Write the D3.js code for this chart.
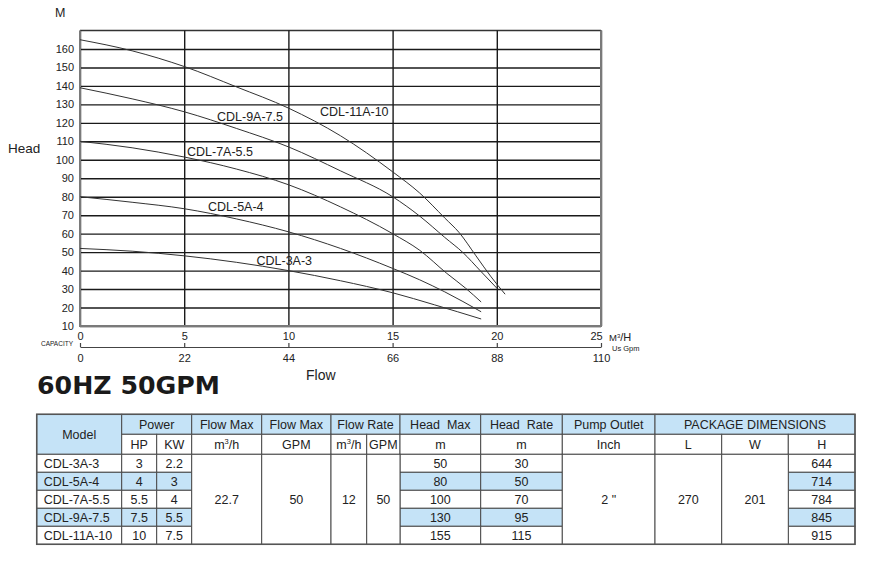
<!DOCTYPE html>
<html>
<head>
<meta charset="utf-8">
<script src="https://cdn.jsdelivr.net/npm/d3@7"></script>
<style>
  body { margin: 0; background: #fff; }
  svg { display: block; font-family: "Liberation Sans", Arial, sans-serif; }
</style>
</head>
<body>
<svg id="chart" width="880" height="562"></svg>
<script>
// ---------- DATA ----------
const curveNames = ["CDL-11A-10", "CDL-9A-7.5", "CDL-7A-5.5", "CDL-5A-4", "CDL-3A-3"];
const curve11A = [[0,165],[2.5,159],[5,150.5],[7.5,139.5],[10,128],[12.5,113],[15,93.5],[16.3,82],[17.5,68.5],[18.2,60.5],[19,48],[19.7,37],[20.4,27.2]];
const curve9A  = [[0,139],[2.5,133],[5,126],[7.5,117],[10,107],[12.5,94],[15,80],[16.3,69.5],[17.5,58],[18.4,49.5],[19.2,40],[20,30.5]];
const curve7A  = [[0,110],[2.5,106.5],[5,101.5],[7.5,95],[10,86.5],[12.5,74.5],[15,60],[16.3,51],[17.6,38.5],[18.5,30.5],[19.25,23]];
const curve5A  = [[0,80],[2.5,77],[5,73.5],[7.5,68],[10,61],[12.5,52],[15,41.2],[16.3,35],[17.5,28.5],[19.25,17.7]];
const curve3A  = [[0,52],[2.5,50.5],[5,48],[7.5,44.5],[10,40],[12.5,34.5],[15,28],[17,21.5],[19.25,13.8]];
const curves = [curve11A, curve9A, curve7A, curve5A, curve3A];

const headTicks = [10,20,30,40,50,60,70,80,90,100,110,120,130,140,150,160];
const flowTicks = [0,5,10,15,20,25];
const gpmTicks = [0,22,44,66,88,110];

// table data
const models   = ["CDL-3A-3","CDL-5A-4","CDL-7A-5.5","CDL-9A-7.5","CDL-11A-10"];
const powerHP  = ["3","4","5.5","7.5","10"];
const powerKW  = ["2.2","3","4","5.5","7.5"];
const headMax  = ["50","80","100","130","155"];
const headRate = ["30","50","70","95","115"];
const pkgH     = ["644","714","784","845","915"];
const flowMaxM3 = "22.7", flowMaxGPM = "50", flowRateM3 = "12", flowRateGPM = "50";
const pumpOutlet = "2 \"", pkgL = "270", pkgW = "201";

// ---------- CHART ----------
const svg = d3.select("#chart");
const X0 = 80, X1 = 601, Ytop = 30.5, Ybot = 326;
const x = d3.scaleLinear().domain([0,25]).range([X0,X1]);
const y = d3.scaleLinear().domain([10,170]).range([Ybot,Ytop]);
const g = d3.scaleLinear().domain([0,110]).range([X0,X1]);

// horizontal grid + head labels
const yAx = svg.append("g").attr("transform",`translate(${X0},0)`)
  .call(d3.axisLeft(y).tickValues(headTicks).tickSize(-(X1-X0)).tickPadding(6));
yAx.select(".domain").remove();
yAx.selectAll("line").attr("stroke","#1a1a1a").attr("stroke-width",1.4);
yAx.selectAll("text").attr("font-size",11).attr("fill","#222").attr("font-family","Liberation Sans, Arial");
// top line (170)
svg.append("line").attr("x1",X0).attr("x2",X1).attr("y1",y(170)).attr("y2",y(170))
  .attr("stroke","#333").attr("stroke-width",1.4);

// vertical grid + flow labels
const xAx = svg.append("g").attr("transform",`translate(0,${Ybot})`)
  .call(d3.axisBottom(x).tickValues(flowTicks).tickSize(-(Ybot-Ytop)).tickPadding(6));
xAx.select(".domain").remove();
xAx.selectAll("line").attr("stroke","#1a1a1a").attr("stroke-width",1.4);
xAx.selectAll("text").attr("font-size",11).attr("fill","#222").attr("font-family","Liberation Sans, Arial")
  .attr("dx",d=>d===25?-5:0);
// frame: left, bottom, right in grey
svg.append("path").attr("d",`M${X0},${Ytop}V${Ybot}H${X1}V${Ytop}`)
  .attr("fill","none").attr("stroke","#7a7a7a").attr("stroke-width",2);

// gpm axis
const gAx = svg.append("g").attr("transform",`translate(0,347)`)
  .call(d3.axisBottom(g).tickValues(gpmTicks).tickSizeInner(-4).tickSizeOuter(0).tickPadding(7));
gAx.select(".domain").attr("stroke","#444").attr("stroke-width",1.2);
gAx.selectAll("line").attr("stroke","#444").attr("stroke-width",1.2);
gAx.selectAll("text").attr("font-size",11).attr("fill","#222").attr("font-family","Liberation Sans, Arial");

// curves
const line = d3.line().x(d=>x(d[0])).y(d=>y(d[1])).curve(d3.curveMonotoneX);
svg.append("g").selectAll("path").data(curves).join("path")
  .attr("d",line).attr("fill","none").attr("stroke","#333").attr("stroke-width",1);

// curve labels
const labelPos = [[320,116],[217,121],[187,155.5],[208,211],[256.5,264.5]];
svg.append("g").selectAll("text").data(curveNames).join("text")
  .attr("x",(d,i)=>labelPos[i][0]).attr("y",(d,i)=>labelPos[i][1])
  .attr("font-size",12.5).attr("fill","#222").text(d=>d);

// axis titles
svg.append("text").attr("x",55).attr("y",17).attr("font-size",12.5).attr("fill","#222").text("M");
svg.append("text").attr("x",8).attr("y",153).attr("font-size",13.5).attr("fill","#222").text("Head");
svg.append("text").attr("x",73).attr("y",346).attr("text-anchor","end").attr("font-size",6.5).attr("fill","#222").text("CAPACITY");
const mh = svg.append("text").attr("x",609).attr("y",341).attr("font-size",9.5).attr("fill","#222");
mh.append("tspan").text("M");
mh.append("tspan").attr("font-size",6).attr("dy",-3).text("3");
mh.append("tspan").attr("dy",3).attr("font-size",11).text("/H");
svg.append("text").attr("x",612).attr("y",351).attr("font-size",7.5).attr("fill","#222").text("Us Gpm");
svg.append("text").attr("x",306).attr("y",380).attr("font-size",14).attr("fill","#222").text("Flow");
svg.append("text").attr("x",37).attr("y",394).attr("font-size",25).attr("font-weight","bold")
  .attr("font-family","DejaVu Sans Condensed, DejaVu Sans").attr("fill","#1a1a1a")
  .attr("textLength",183).attr("lengthAdjust","spacingAndGlyphs").text("60HZ 50GPM");

// ---------- TABLE ----------
const cols = [36.7,121.7,156.7,191.7,261.7,331,366.7,400,480.7,562.3,655,721.7,788.3,855];
const rowY = [414.3,434.3,454.3,472.3,490.3,508.3,526.3,544.3];
const blue = "#c5e3f7", border = "#4a4a4a";
const T = svg.append("g");
function cell(c0,c1,r0,r1,fill,text,anchor){
  const xa = cols[c0], xb = cols[c1], ya = rowY[r0], yb = rowY[r1];
  T.append("rect").attr("x",xa).attr("y",ya).attr("width",xb-xa).attr("height",yb-ya)
    .attr("fill",fill).attr("stroke",border).attr("stroke-width",1);
  if (text !== undefined) {
    const t = T.append("text").attr("y",(ya+yb)/2+4.5).attr("font-size",12.5).attr("fill","#222")
      .style("white-space","pre");
    if (anchor==="start") t.attr("x",xa+7).attr("text-anchor","start");
    else t.attr("x",(xa+xb)/2).attr("text-anchor","middle");
    if (text.indexOf("m³/h")>=0) { t.append("tspan").text("m"); t.append("tspan").attr("font-size",7.5).attr("dy",-5).text("3"); t.append("tspan").attr("dy",5).text("/h"); }
    else t.text(text);
  }
}
// header row 1
cell(0,1,0,2,blue,"Model");
cell(1,3,0,1,blue,"Power");
cell(3,4,0,1,blue,"Flow Max");
cell(4,5,0,1,blue,"Flow Max");
cell(5,7,0,1,blue,"Flow Rate");
cell(7,8,0,1,blue,"Head  Max");
cell(8,9,0,1,blue,"Head  Rate");
cell(9,10,0,1,blue,"Pump Outlet");
cell(10,13,0,1,blue,"PACKAGE DIMENSIONS");
// header row 2
cell(1,2,1,2,"#fff","HP");
cell(2,3,1,2,"#fff","KW");
cell(3,4,1,2,"#fff","m³/h");
cell(4,5,1,2,"#fff","GPM");
cell(5,6,1,2,"#fff","m³/h");
cell(6,7,1,2,"#fff","GPM");
cell(7,8,1,2,"#fff","m");
cell(8,9,1,2,"#fff","m");
cell(9,10,1,2,"#fff","Inch");
cell(10,11,1,2,"#fff","L");
cell(11,12,1,2,"#fff","W");
cell(12,13,1,2,"#fff","H");
// data rows
models.forEach((m,i)=>{
  const r = i+2, f = (i%2===1) ? blue : "#fff";
  cell(0,1,r,r+1,f,m,"start");
  cell(1,2,r,r+1,f,powerHP[i]);
  cell(2,3,r,r+1,f,powerKW[i]);
  cell(7,8,r,r+1,f,headMax[i]);
  cell(8,9,r,r+1,f,headRate[i]);
  cell(12,13,r,r+1,f,pkgH[i]);
});
cell(3,4,2,7,"#fff",flowMaxM3);
cell(4,5,2,7,"#fff",flowMaxGPM);
cell(5,6,2,7,"#fff",flowRateM3);
cell(6,7,2,7,"#fff",flowRateGPM);
cell(9,10,2,7,"#fff",pumpOutlet);
cell(10,11,2,7,"#fff",pkgL);
cell(11,12,2,7,"#fff",pkgW);
// outer border
T.append("rect").attr("x",cols[0]).attr("y",rowY[0]).attr("width",cols[13]-cols[0]).attr("height",rowY[7]-rowY[0])
  .attr("fill","none").attr("stroke","#555").attr("stroke-width",1.5);
</script>
</body>
</html>
